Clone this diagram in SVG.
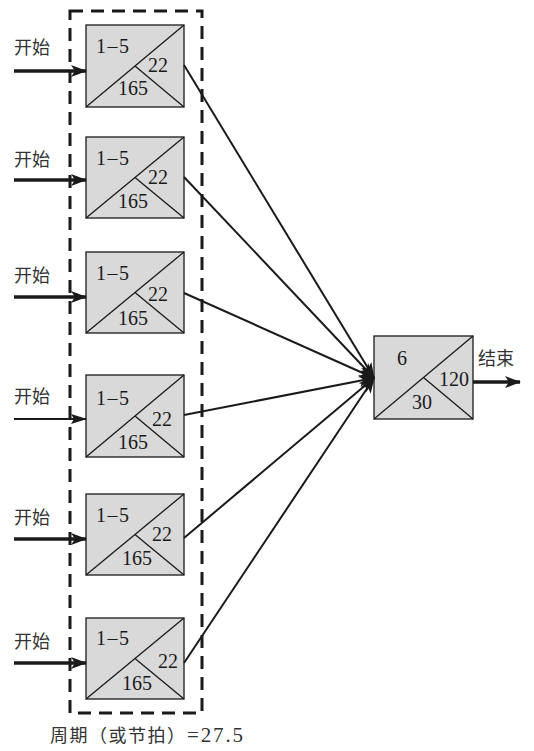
<svg xmlns="http://www.w3.org/2000/svg" width="534" height="751" viewBox="0 0 534 751">
<style>
.box{fill:#d9d9d9;stroke:#1a1a1a;stroke-width:1.3}
.ln{stroke:#1a1a1a;stroke-width:1.3;fill:none}
.num{font-family:"Liberation Serif","Times New Roman",serif;font-size:20px;fill:#1a1a1a}
.cjk{font-family:"Noto Sans CJK SC","Noto Sans",sans-serif;font-size:18px;fill:#333}
.ser{font-family:"Liberation Serif","Times New Roman",serif;font-size:21px;fill:#333}
.in{stroke:#1a1a1a;stroke-width:3.5;fill:none}
.conn{stroke:#1a1a1a;stroke-width:2;fill:none}
</style>
<defs>
<marker id="ah" markerUnits="userSpaceOnUse" markerWidth="16" markerHeight="12" refX="15" refY="6" orient="auto">
<path d="M0,0 L16,6 L0,12 L4,6 Z" fill="#1a1a1a"/>
</marker>
<marker id="ah2" markerUnits="userSpaceOnUse" markerWidth="16" markerHeight="12" refX="15" refY="6" orient="auto">
<path d="M0,1 L16,6 L0,11 L3,6 Z" fill="#1a1a1a"/>
</marker>
</defs>

<rect x="70" y="11" width="132" height="702" fill="none" stroke="#1a1a1a" stroke-width="3" stroke-dasharray="13 8"/>

<g id="node1" transform="translate(86,25)">
<rect class="box" x="0" y="0" width="98" height="82"/>
<path class="ln" d="M0,82 L98,0 M49,41 L98,82"/>
<text class="num" x="10" y="28" textLength="33" lengthAdjust="spacing">1–5</text>
<text class="num" x="62" y="47">22</text>
<text class="num" x="32" y="70">165</text>
</g>
<g id="node2" transform="translate(86,137)">
<rect class="box" x="0" y="0" width="98" height="81"/>
<path class="ln" d="M0,81 L98,0 M49,40.5 L98,81"/>
<text class="num" x="10" y="28" textLength="33" lengthAdjust="spacing">1–5</text>
<text class="num" x="62" y="47">22</text>
<text class="num" x="32" y="71">165</text>
</g>
<g id="node3" transform="translate(86,252)">
<rect class="box" x="0" y="0" width="98" height="81"/>
<path class="ln" d="M0,81 L98,0 M49,40.5 L98,81"/>
<text class="num" x="10" y="28" textLength="33" lengthAdjust="spacing">1–5</text>
<text class="num" x="62" y="49">22</text>
<text class="num" x="32" y="73">165</text>
</g>
<g id="node4" transform="translate(86,375)">
<rect class="box" x="0" y="0" width="98" height="82"/>
<path class="ln" d="M0,82 L98,0 M49,41 L98,82"/>
<text class="num" x="10" y="30" textLength="33" lengthAdjust="spacing">1–5</text>
<text class="num" x="66" y="51">22</text>
<text class="num" x="32" y="74">165</text>
</g>
<g id="node5" transform="translate(86,494)">
<rect class="box" x="0" y="0" width="98" height="81"/>
<path class="ln" d="M0,81 L98,0 M49,40.5 L98,81"/>
<text class="num" x="10" y="28" textLength="33" lengthAdjust="spacing">1–5</text>
<text class="num" x="66" y="47">22</text>
<text class="num" x="36" y="71">165</text>
</g>
<g id="node6" transform="translate(86,618)">
<rect class="box" x="0" y="0" width="98" height="81"/>
<path class="ln" d="M0,81 L98,0 M49,40.5 L98,81"/>
<text class="num" x="10" y="27" textLength="33" lengthAdjust="spacing">1–5</text>
<text class="num" x="72" y="50">22</text>
<text class="num" x="36" y="72">165</text>
</g>

<g id="end">
<rect class="box" x="374" y="336" width="99" height="83"/>
<path class="ln" d="M374,419 L473,336 M423.5,377.5 L473,419"/>
<text class="num" x="397" y="365">6</text>
<text class="num" x="439" y="386">120</text>
<text class="num" x="412" y="409">30</text>
</g>

<g id="labels">
<text class="cjk" x="14" y="54">开始</text>
<text class="cjk" x="14" y="166">开始</text>
<text class="cjk" x="14" y="282">开始</text>
<text class="cjk" x="14" y="403">开始</text>
<text class="cjk" x="14" y="524">开始</text>
<text class="cjk" x="14" y="648">开始</text>
<text class="cjk" x="478" y="365">结束</text>
<text class="cjk" x="50" y="742" textLength="135" lengthAdjust="spacing">周期（或节拍）</text>
<text class="ser" x="187" y="742" textLength="56" lengthAdjust="spacing">=27.5</text>
</g>

<g id="connectors">
<line class="in" x1="14" y1="71" x2="86" y2="71" marker-end="url(#ah)"/>
<line class="in" x1="14" y1="180" x2="86" y2="180" marker-end="url(#ah)"/>
<line class="in" x1="14" y1="297" x2="86" y2="297" marker-end="url(#ah)"/>
<line class="conn" x1="14" y1="419" x2="86" y2="419" stroke-width="1.8" marker-end="url(#ah2)"/>
<line class="in" x1="14" y1="539" x2="86" y2="539" marker-end="url(#ah)"/>
<line class="in" x1="14" y1="663" x2="86" y2="663" marker-end="url(#ah)"/>
<line class="conn" x1="184" y1="65" x2="374" y2="378" marker-end="url(#ah)"/>
<line class="conn" x1="184" y1="177" x2="374" y2="378" marker-end="url(#ah)"/>
<line class="conn" x1="184" y1="293" x2="374" y2="378" marker-end="url(#ah)"/>
<line class="conn" x1="184" y1="415" x2="374" y2="378" marker-end="url(#ah)"/>
<line class="conn" x1="184" y1="538" x2="374" y2="378" marker-end="url(#ah)"/>
<line class="conn" x1="184" y1="663" x2="374" y2="378" marker-end="url(#ah)"/>
<line class="in" x1="473" y1="382" x2="520" y2="382" marker-end="url(#ah)"/>
</g>
</svg>
